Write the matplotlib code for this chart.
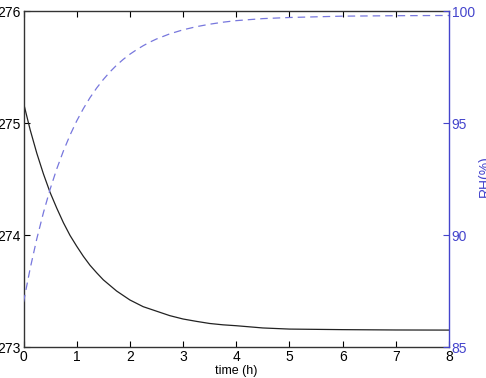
import matplotlib
matplotlib.use("Agg")
import matplotlib.pyplot as plt

plt.rcParams['font.family'] = ['Liberation Sans', 'DejaVu Sans']

time_h = [0, 0.125, 0.25, 0.375, 0.5, 0.625, 0.75, 0.875, 1, 1.125, 1.25,
          1.375, 1.5, 1.625, 1.75, 1.875, 2, 2.125, 2.25, 2.375, 2.5, 2.75,
          3, 3.25, 3.5, 3.75, 4, 4.5, 5, 6, 7, 8]
temp_K = [275.18, 274.94, 274.73, 274.545, 274.38, 274.24, 274.11, 273.996,
          273.90, 273.81, 273.73, 273.663, 273.60, 273.55, 273.50, 273.46,
          273.42, 273.39, 273.36, 273.34, 273.32, 273.28, 273.25, 273.229,
          273.21, 273.198, 273.19, 273.17, 273.16, 273.155, 273.152, 273.151]
rh_pct = [87.0, 88.50, 89.83, 91.00, 92.04, 92.95, 93.75, 94.46, 95.09,
          95.64, 96.13, 96.56, 96.94, 97.28, 97.58, 97.84, 98.07, 98.27,
          98.45, 98.61, 98.75, 98.98, 99.16, 99.30, 99.41, 99.50, 99.57,
          99.66, 99.71, 99.77, 99.79, 99.80]

xticks = [0, 1, 2, 3, 4, 5, 6, 7, 8]
yticks_left = [273, 274, 275, 276]
yticks_right = [85, 90, 95, 100]

blue_axis = '#4444cc'
blue_line = '#7777dd'

W, H = 486, 378
fig = plt.figure(figsize=(W/100, H/100), dpi=100)
ax = fig.add_axes([23.5/W, 1 - 347/H, (449 - 23.5)/W, (347 - 11)/H])
ax.plot(time_h, temp_K, color='#222222', lw=0.9)
ax.set_xlim(0, 8)
ax.set_ylim(273, 276)
ax.set_xticks(xticks)
ax.set_yticks(yticks_left)
ax.tick_params(direction='in', length=4, width=0.8, labelsize=10, top=True,
               pad=2)
for s in ['left', 'bottom', 'top']:
    ax.spines[s].set_color('#333333')
    ax.spines[s].set_linewidth(1.0)
ax.spines['right'].set_visible(False)
ax.set_xlabel('time (h)', fontsize=9, labelpad=1)

ax2 = ax.twinx()
ax2.plot(time_h, rh_pct, color=blue_line, lw=0.9, ls=(0, (6, 4)))
ax2.set_ylim(85, 100)
ax2.set_yticks(yticks_right)
ax2.tick_params(direction='in', length=4, width=0.8, labelsize=10,
                colors=blue_axis, pad=2)
ax2.spines['right'].set_color(blue_axis)
ax2.spines['right'].set_linewidth(1.0)
for s in ['left', 'bottom', 'top']:
    ax2.spines[s].set_visible(False)

fig.text(478/W, 1 - 176/H, 'RH(%)', color=blue_axis, fontsize=10,
         rotation=90, ha='left', va='center')

fig.savefig('out.png', dpi=100)
